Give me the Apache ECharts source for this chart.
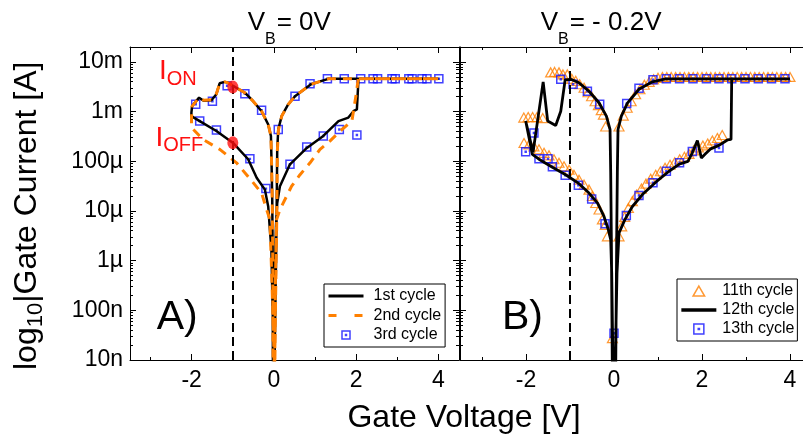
<!DOCTYPE html>
<html>
<head>
<meta charset="utf-8">
<script src="https://cdn.jsdelivr.net/npm/echarts@6/dist/echarts.min.js"></script>
<style>
  html, body { margin: 0; padding: 0; background: #fff; }
  #chart { width: 803px; height: 435px; }
</style>
</head>
<body>
<div id="chart"></div>
<script>
var FONT = '"Liberation Sans", Arial, sans-serif';

// ---- data: [gate voltage V, |gate current| A] ----
// panel A, V_B = 0 V
var cycle1 = [
  [0.01, 5e-9], [0.037, 1.62e-7], [0.061, 4.17e-6], [0.08, 1.74e-4], [0.105, 4.37e-4], [0.188, 8.13e-4],
  [0.349, 1.41e-3], [0.512, 2.04e-3], [0.902, 3.55e-3], [1.32, 4.57e-3], [4.0, 4.57e-3],
  [2.056, 4.57e-3], [2.017, 1.11e-3], [1.934, 1.02e-3], [1.81, 7.59e-4], [1.57, 6.46e-4], [1.20, 3.24e-4],
  [0.80, 1.86e-4], [0.39, 8.71e-5], [0.146, 3.16e-5], [0.08, 1.45e-5], [0.049, 4.90e-6], [0.024, 5.62e-7], [0.007, 5e-9],
  [-0.017, 5e-9], [-0.037, 1.62e-7], [-0.061, 1.66e-6], [-0.098, 4.17e-6], [-0.139, 1.23e-5], [-0.22, 2.69e-5],
  [-0.42, 4.68e-5], [-0.627, 1.10e-4], [-0.993, 2.34e-4], [-1.40, 4.07e-4], [-1.805, 6.46e-4], [-2.007, 8.13e-4],
  [-2.007, 9.55e-4], [-1.99, 1.29e-3], [-1.82, 1.91e-3], [-1.71, 1.66e-3], [-1.52, 1.70e-3], [-1.40, 2.24e-3],
  [-1.32, 3.72e-3], [-1.195, 3.98e-3], [-1.115, 3.80e-3], [-0.993, 3.31e-3], [-0.707, 2.40e-3], [-0.505, 1.62e-3],
  [-0.30, 1.02e-3], [-0.139, 5.50e-4], [-0.073, 3.24e-4], [-0.056, 7.94e-5], [-0.041, 1.70e-5], [-0.032, 1.66e-6], [-0.024, 5e-9]
];
var cycle2 = [
  [0.02, 5e-9], [0.04, 1.62e-7], [0.065, 4.17e-6], [0.085, 1.74e-4], [0.11, 4.37e-4], [0.19, 8.13e-4],
  [0.35, 1.41e-3], [0.51, 2.04e-3], [0.90, 3.55e-3], [1.32, 4.57e-3], [4.0, 4.57e-3],
  [2.05, 4.57e-3], [2.0, 2.24e-3], [1.95, 1.23e-3], [1.895, 6.46e-4], [1.61, 4.07e-4], [1.366, 2.57e-4],
  [1.12, 1.74e-4], [0.878, 9.33e-5], [0.634, 5.37e-5], [0.43, 3.16e-5], [0.268, 1.70e-5], [0.146, 1.07e-5],
  [0.065, 6.76e-6], [0.037, 4.07e-7], [0.017, 5e-9],
  [-0.012, 5e-9], [-0.05, 4.07e-7], [-0.098, 6.76e-6], [-0.178, 1.07e-5], [-0.30, 2.29e-5], [-0.505, 3.72e-5],
  [-0.91, 9.33e-5], [-1.317, 1.74e-4], [-1.724, 2.75e-4], [-2.007, 4.79e-4],
  [-2.0, 1.05e-3], [-1.99, 1.29e-3], [-1.82, 1.91e-3], [-1.71, 1.70e-3], [-1.52, 1.74e-3], [-1.40, 2.29e-3],
  [-1.32, 3.63e-3], [-1.195, 3.98e-3], [-1.115, 3.80e-3], [-0.993, 3.31e-3], [-0.707, 2.40e-3], [-0.505, 1.62e-3],
  [-0.30, 1.02e-3], [-0.139, 5.50e-4], [-0.073, 3.24e-4], [-0.056, 7.94e-5], [-0.041, 1.70e-5], [-0.03, 1.66e-6], [-0.02, 5e-9]
];
var cycle3 = [
  [-1.902, 1.41e-3], [-1.805, 6.46e-4], [-1.496, 1.62e-3], [-1.398, 4.27e-4], [-1.138, 3.31e-3], [-0.707, 2.29e-3],
  [-0.585, 1.12e-4], [-0.30, 1.07e-3], [-0.195, 2.82e-5], [0.105, 4.37e-4], [0.39, 8.71e-5], [0.512, 2.04e-3],
  [0.797, 1.95e-4], [0.878, 3.63e-3], [1.20, 3.24e-4], [1.30, 4.57e-3], [1.59, 4.37e-4], [1.71, 4.57e-3],
  [2.017, 3.39e-4], [2.11, 4.57e-3], [2.41, 4.57e-3], [2.52, 4.57e-3], [2.87, 4.57e-3], [2.95, 4.57e-3],
  [3.28, 4.57e-3], [3.36, 4.57e-3], [3.60, 4.57e-3], [3.72, 4.57e-3], [4.01, 4.57e-3]
];
var onOffPoints = [[-1, 3.13e-3], [-1, 2.36e-4]];

// panel B, V_B = -0.2 V
var cycle11 = [
  [0.114, 5.01e-4], [0.21, 8.32e-4], [0.30, 1.20e-3], [0.39, 1.62e-3], [0.49, 2.24e-3], [0.59, 2.82e-3],
  [0.69, 3.47e-3], [0.80, 3.98e-3], [0.90, 4.47e-3], [1.0, 4.79e-3],
  [1.1, 5.0e-3], [1.2, 5.0e-3], [1.3, 5.0e-3], [1.4, 5.0e-3], [1.5, 5.0e-3], [1.6, 5.0e-3], [1.7, 5.0e-3],
  [1.8, 5.0e-3], [1.9, 5.0e-3], [2.0, 5.0e-3], [2.1, 5.0e-3], [2.2, 5.0e-3], [2.3, 5.0e-3], [2.4, 5.0e-3],
  [2.5, 5.0e-3], [2.6, 5.0e-3], [2.7, 5.0e-3], [2.8, 5.0e-3], [2.9, 5.0e-3], [3.0, 5.0e-3], [3.1, 5.0e-3],
  [3.2, 5.0e-3], [3.3, 5.0e-3], [3.4, 5.0e-3], [3.5, 5.0e-3], [3.6, 5.0e-3], [3.7, 5.0e-3], [3.8, 5.0e-3],
  [3.9, 5.0e-3], [4.0, 5.0e-3],
  [-1.44, 6.17e-3], [-1.35, 6.31e-3], [-1.25, 6.17e-3], [-1.16, 5.62e-3], [-1.06, 5.62e-3], [-0.96, 4.57e-3],
  [-0.87, 4.17e-3], [-0.78, 3.55e-3], [-0.68, 3.02e-3], [-0.59, 2.45e-3], [-0.51, 2.04e-3], [-0.43, 1.62e-3],
  [-0.355, 1.35e-3], [-0.29, 1.07e-3], [-0.24, 8.71e-4], [-0.19, 5.01e-4],
  [-2.05, 7.59e-4], [-1.95, 7.76e-4], [-1.85, 7.76e-4], [-1.75, 7.76e-4], [-1.62, 7.41e-4],
  [-0.15, 3.09e-6], [-0.2, 5.25e-6], [-0.264, 6.76e-6], [-0.34, 1.07e-5], [-0.416, 1.45e-5], [-0.49, 2.0e-5],
  [-0.568, 2.69e-5], [-0.68, 3.39e-5], [-0.795, 4.27e-5], [-0.91, 5.37e-5], [-1.02, 6.76e-5], [-1.136, 7.94e-5],
  [-1.25, 9.33e-5], [-1.364, 1.10e-4], [-1.477, 1.32e-4], [-1.59, 1.48e-4], [-1.705, 1.74e-4], [-1.82, 2.0e-4],
  [-1.93, 2.19e-4], [-2.045, 2.34e-4],
  [0.114, 3.09e-6], [0.175, 4.90e-6], [0.243, 7.59e-6], [0.327, 1.15e-5], [0.418, 1.58e-5], [0.516, 2.14e-5],
  [0.623, 2.82e-5], [0.727, 3.55e-5], [0.834, 4.47e-5], [0.948, 5.37e-5], [1.054, 6.31e-5], [1.16, 7.41e-5],
  [1.273, 8.51e-5], [1.38, 9.55e-5], [1.493, 1.10e-4], [1.60, 1.23e-4], [1.705, 1.41e-4], [1.81, 1.66e-4],
  [1.92, 1.91e-4], [2.02, 2.09e-4], [2.13, 2.29e-4], [2.236, 2.63e-4], [2.35, 2.95e-4], [2.46, 3.39e-4],
  [-0.036, 2.75e-8]
];
var cycle12 = [
  [-0.02, 5e-9], [-0.052, 5.62e-7], [-0.075, 2.63e-6], [-0.128, 4.17e-6], [-0.227, 7.76e-6], [-0.377, 1.45e-5],
  [-0.568, 2.29e-5], [-0.795, 3.55e-5], [-1.098, 5.37e-5], [-1.40, 7.59e-5], [-1.705, 1.10e-4], [-1.855, 1.38e-4],
  [-2.007, 6.46e-4], [-1.84, 1.51e-4], [-1.61, 3.98e-3], [-1.507, 6.46e-4], [-1.325, 5.25e-4], [-1.21, 1.02e-3],
  [-1.11, 4.37e-3], [-0.984, 4.47e-3], [-0.795, 3.80e-3], [-0.568, 2.57e-3], [-0.34, 1.51e-3], [-0.173, 8.13e-4],
  [-0.09, 4.37e-4], [-0.075, 5.89e-5], [-0.06, 2.63e-6], [-0.037, 5e-9],
  [0.038, 5e-9], [0.061, 2.63e-6], [0.076, 5.89e-5], [0.091, 4.37e-4], [0.167, 8.13e-4], [0.305, 1.48e-3],
  [0.568, 2.82e-3], [0.872, 3.98e-3], [1.175, 4.57e-3], [4.0, 4.57e-3],
  [2.675, 4.57e-3], [2.66, 2.75e-4], [2.577, 2.69e-4], [2.386, 2.09e-4], [2.197, 1.78e-4], [2.068, 1.38e-4],
  [1.985, 1.17e-4], [1.895, 2.63e-4], [1.78, 1.48e-4], [1.68, 1.00e-4], [1.477, 8.71e-5], [1.25, 6.31e-5],
  [0.948, 3.80e-5], [0.645, 2.14e-5], [0.418, 1.23e-5], [0.25, 6.76e-6], [0.114, 3.63e-6], [0.068, 5.62e-7], [0.023, 5e-9]
];
var cycle13 = [
  [-2.007, 1.55e-4], [-1.82, 3.72e-4], [-1.705, 1.12e-4], [-1.50, 1.12e-4], [-1.40, 7.76e-5], [-1.21, 4.47e-3],
  [-1.11, 5.25e-5], [-0.93, 3.55e-3], [-0.81, 3.31e-5], [-0.605, 2.57e-3], [-0.507, 1.74e-5], [-0.325, 1.41e-3],
  [-0.204, 5.50e-6], [0.0, 3.47e-8], [0.28, 8.13e-6], [0.289, 1.45e-3], [0.568, 2.04e-5], [0.568, 2.95e-3],
  [0.886, 3.72e-5], [0.886, 4.37e-3], [1.19, 6.31e-5], [1.19, 4.57e-3], [1.49, 9.33e-5], [1.49, 4.57e-3],
  [1.78, 1.58e-4], [1.795, 4.57e-3], [2.10, 4.57e-3], [2.386, 1.86e-4], [2.386, 4.57e-3], [2.675, 4.57e-3],
  [2.977, 4.57e-3], [3.28, 4.57e-3], [3.58, 4.57e-3], [3.886, 4.57e-3]
];

// ---- axes / ticks ----
var xMin = -3.5, xMax = 4.5;
var yMin = 1e-8, yMax = 0.02;
var xTickMajor = [-2, 0, 2, 4];
var xTickMinor = [-3, -1, 1, 3];
var yTickExp = [-8, -7, -6, -5, -4, -3, -2];
var yTickLabels = ['10n', '100n', '1µ', '10µ', '100µ', '1m', '10m'];
var minorMult = [2, 3, 4, 5, 6, 7, 8, 9];
var readVoltage = -1;   // dashed line

var minorTickPos = [];
yTickExp.forEach(function (e) {
  minorMult.forEach(function (m) {
    var v = e + Math.log10(m);
    if (v <= Math.log10(yMax) + 1e-9) minorTickPos.push(v);
  });
});

function fmtY(v) {
  var e = Math.log10(v), r = Math.round(e);
  if (Math.abs(e - r) > 0.01) return '';
  var i = yTickExp.indexOf(r);
  return i < 0 ? '' : yTickLabels[i];
}

function xAx(grid, pos, ticks, len, labels, line) {
  return {
    type: 'value', gridIndex: grid, position: pos, min: xMin, max: xMax,
    axisLine: { show: line, onZero: false, lineStyle: { color: '#000', width: 1 } },
    axisTick: { show: true, inside: true, length: len, customValues: ticks, lineStyle: { color: '#000', width: 1 } },
    axisLabel: labels ? { show: true, customValues: xTickMajor, color: '#000', fontSize: 23, fontFamily: FONT, margin: 9 } : { show: false },
    splitLine: { show: false }
  };
}
function yLog(grid, pos, labels) {
  return {
    type: 'log', logBase: 10, gridIndex: grid, position: pos, min: yMin, max: yMax,
    axisLine: { show: true, onZero: false, lineStyle: { color: '#000', width: 1 } },
    axisTick: { show: true, inside: true, length: 6, lineStyle: { color: '#000', width: 1 } },
    axisLabel: labels ? { show: true, formatter: fmtY, showMaxLabel: false, color: '#000', fontSize: 23, fontFamily: FONT, margin: 7 } : { show: false },
    splitLine: { show: false }, minorTick: { show: false }
  };
}
function yMinor(grid, pos) {
  return {
    type: 'value', gridIndex: grid, position: pos, min: Math.log10(yMin), max: Math.log10(yMax),
    axisLine: { show: false, onZero: false },
    axisTick: { show: true, inside: true, length: 3, customValues: minorTickPos, lineStyle: { color: '#000', width: 1 } },
    axisLabel: { show: false }, splitLine: { show: false }
  };
}

// ---- text helpers (sub-scripted labels) ----
var measureCtx = document.createElement('canvas').getContext('2d');
function textWidth(str, size) {
  measureCtx.font = size + 'px ' + FONT;
  return measureCtx.measureText(str).width;
}
// parts: [text, fontSize, dy, color, extraGap]
function pieces(x, y, parts) {
  var out = [], cx = x;
  parts.forEach(function (p) {
    out.push({
      type: 'text', x: cx, y: y + p[2], silent: true,
      style: { text: p[0], fontSize: p[1], fontFamily: FONT, fill: p[3] || '#000', align: 'left', verticalAlign: 'middle' }
    });
    cx += textWidth(p[0], p[1]) + (p[4] || 0);
  });
  return out;
}

var RED = '#ff1010', ORANGE = '#ff8000', BLUE = '#1010ff';
var SQUARE = 'path://M0,0H10V10H0Z M4.4,4.4H5.6V5.6H4.4Z';
var TRIANGLE = 'path://M5,0L10,8.66L0,8.66Z';
var dashLine = { data: [{ xAxis: readVoltage }], symbol: ['none', 'none'], silent: true, label: { show: false },
  lineStyle: { color: '#000', width: 2, type: [9, 5] }, emphasis: { disabled: true } };
// legend entries for line series: line only, no marker
var noMarker = { opacity: 0, color: 'transparent', borderColor: 'transparent', borderWidth: 0 };

var graphics = []
  .concat(pieces(247.7, 23.3, [['V', 26, 0], ['B', 16, 15.9, null, 1], ['= 0V', 26, 0]]))
  .concat(pieces(540.7, 23.3, [['V', 26, 0], ['B', 16, 15.9, null, 1], ['= - 0.2V', 26, 0]]))
  .concat(pieces(159, 71.7, [['I', 28, 0, RED], ['ON', 20, 8, RED]]))
  .concat(pieces(155.5, 138.3, [['I', 28, 0, RED], ['OFF', 20, 7.5, RED]]))
  .concat(pieces(156.7, 318, [['A)', 41, 0]]))
  .concat(pieces(502, 318, [['B)', 41, 0]]));
graphics.push({
  type: 'text', x: 464, y: 418.3, silent: true,
  style: { text: 'Gate Voltage [V]', fontSize: 32, fontFamily: FONT, fill: '#000', align: 'center', verticalAlign: 'middle' }
});
graphics.push({
  type: 'group', x: 38.5, y: 370, rotation: Math.PI / 2, silent: true,
  children: pieces(0, -11.5, [['log', 32, 0], ['10', 22, 8.5], ['|Gate Current [A]', 32, 0]])
});

var chart = echarts.init(document.getElementById('chart'), null, { renderer: 'canvas' });
chart.setOption({
  animation: false,
  backgroundColor: '#fff',
  textStyle: { fontFamily: FONT },
  grid: [
    { left: 130, top: 47, width: 329, height: 313, containLabel: false, outerBoundsMode: 'none' },
    { left: 460, top: 47, width: 352, height: 313, containLabel: false, outerBoundsMode: 'none' }
  ],
  xAxis: [
    xAx(0, 'bottom', xTickMajor, 6, true, true), xAx(0, 'bottom', xTickMinor, 3, false, false),
    xAx(0, 'top', xTickMajor, 6, false, true), xAx(0, 'top', xTickMinor, 3, false, false),
    xAx(1, 'bottom', xTickMajor, 6, true, true), xAx(1, 'bottom', xTickMinor, 3, false, false),
    xAx(1, 'top', xTickMajor, 6, false, true), xAx(1, 'top', xTickMinor, 3, false, false)
  ],
  yAxis: [
    yLog(0, 'left', true), yMinor(0, 'left'),
    yLog(0, 'right', false), yMinor(0, 'right'),
    yLog(1, 'left', false), yMinor(1, 'left')
  ],
  legend: [
    {
      data: [
        { name: '1st cycle', itemStyle: noMarker },
        { name: '2nd cycle', itemStyle: noMarker, lineStyle: { type: [8, 18] } },
        { name: '3rd cycle' }
      ],
      orient: 'vertical', left: 324, top: 284, itemWidth: 35, itemHeight: 8, itemGap: 3.5,
      padding: [4, 4, 4, 3], borderColor: '#000', borderWidth: 1, borderRadius: 0, backgroundColor: '#fff',
      selectedMode: false, lineStyle: { width: 3 }, itemStyle: { borderWidth: 1.5 },
      textStyle: { fontSize: 16, fontFamily: FONT, color: '#000', padding: [0, 0, 0, 5] }
    },
    {
      data: [{ name: '11th cycle' }, { name: '12th cycle', itemStyle: noMarker }, { name: '13th cycle' }],
      orient: 'vertical', left: 677, top: 279, itemWidth: 35, itemHeight: 10, itemGap: 3,
      padding: [4, 3, 4, 2.6], borderColor: '#000', borderWidth: 1, borderRadius: 0, backgroundColor: '#fff',
      selectedMode: false, lineStyle: { width: 3.5 }, itemStyle: { borderWidth: 1.5 },
      textStyle: { fontSize: 16, fontFamily: FONT, color: '#000', padding: [0, 0, 0, 1] }
    }
  ],
  series: [
    { name: '1st cycle', type: 'line', xAxisIndex: 0, yAxisIndex: 0, data: cycle1, symbol: 'none', showSymbol: false, silent: true,
      lineStyle: { color: '#000', width: 2.5 }, itemStyle: { color: '#000' }, markLine: dashLine },
    { name: '2nd cycle', type: 'line', xAxisIndex: 0, yAxisIndex: 0, data: cycle2, symbol: 'none', showSymbol: false, silent: true,
      lineStyle: { color: ORANGE, width: 3, type: [9, 7] }, itemStyle: { color: ORANGE } },
    { name: '3rd cycle', type: 'scatter', xAxisIndex: 0, yAxisIndex: 0, data: cycle3, symbol: SQUARE, symbolSize: 8,
      silent: true, itemStyle: { color: 'transparent', borderColor: BLUE, borderWidth: 1.5 } },
    { name: 'points', type: 'scatter', xAxisIndex: 0, yAxisIndex: 0, data: onOffPoints, symbol: 'circle',
      symbolSize: [11, 13], silent: true, z: 5, itemStyle: { color: RED } },
    { name: '11th cycle', type: 'scatter', xAxisIndex: 4, yAxisIndex: 4, data: cycle11, symbol: TRIANGLE,
      symbolSize: [10, 9], silent: true, itemStyle: { color: 'transparent', borderColor: ORANGE, borderWidth: 1.2 } },
    { name: '12th cycle', type: 'line', xAxisIndex: 4, yAxisIndex: 4, data: cycle12, symbol: 'none', showSymbol: false, silent: true,
      lineStyle: { color: '#000', width: 2.8 }, itemStyle: { color: '#000' }, markLine: dashLine },
    { name: '13th cycle', type: 'scatter', xAxisIndex: 4, yAxisIndex: 4, data: cycle13, symbol: SQUARE, symbolSize: 8,
      silent: true, itemStyle: { color: 'transparent', borderColor: BLUE, borderWidth: 1.5 } }
  ],
  graphic: graphics
});
</script>
</body>
</html>
